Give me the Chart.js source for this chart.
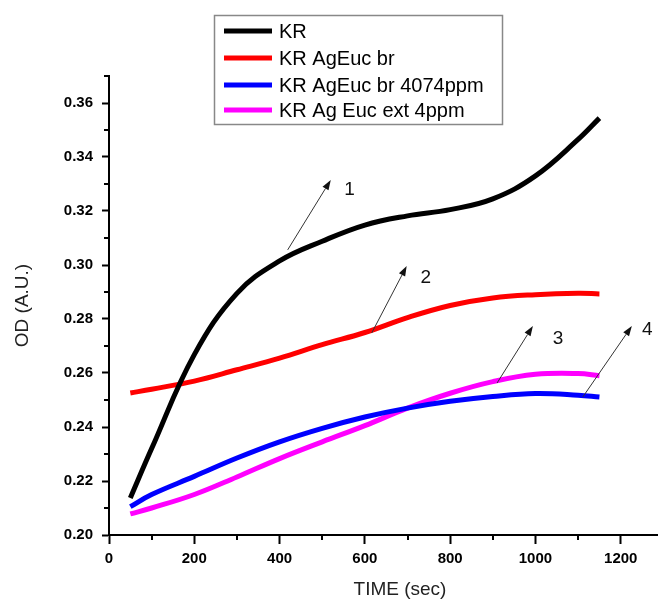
<!DOCTYPE html>
<html>
<head>
<meta charset="utf-8">
<script src="https://cdn.jsdelivr.net/npm/chart.js@4.4.1/dist/chart.umd.min.js"></script>
<style>
  body { margin: 0; background: #fff; }
  #wrap { width: 659px; height: 601px; }
</style>
</head>
<body>
<div id="wrap"><canvas id="odChart" width="659" height="601"></canvas></div>
<script>
// time points (sec)
const times = [50, 100, 200, 300, 400, 500, 600, 700, 800, 900, 1000, 1100, 1150];

const seriesLabels = ["KR", "KR AgEuc br", "KR AgEuc br 4074ppm", "KR Ag Euc ext 4ppm"];
const seriesColors = ['#000000', '#ff0000', '#0000ff', '#ff00ff'];

const odKR      = [0.2137, 0.2320, 0.2668, 0.2895, 0.3015, 0.3088, 0.3148, 0.3182, 0.3205, 0.3245, 0.3330, 0.3465, 0.3544];
const odBr      = [0.2526, 0.2540, 0.2570, 0.2612, 0.2655, 0.2705, 0.2750, 0.2805, 0.2850, 0.2878, 0.2890, 0.2895, 0.2893];
const odBr4074  = [0.2105, 0.2150, 0.2217, 0.2285, 0.2345, 0.2395, 0.2437, 0.2470, 0.2495, 0.2513, 0.2524, 0.2518, 0.2511];
const odExt4    = [0.2078, 0.2100, 0.2150, 0.2215, 0.2283, 0.2345, 0.2405, 0.2470, 0.2525, 0.2568, 0.2595, 0.2598, 0.2590];

// numbered arrows: tail (x,y) -> head (x,y), label position, in data units
const arrowNames = ["1", "2", "3", "4"];
const arrowTails = [[419, 0.3056], [616, 0.2748], [910, 0.2563], [1111, 0.2511]];
const arrowHeads = [[520, 0.3315], [698, 0.2996], [994, 0.2774], [1226, 0.2774]];
const arrowTexts = [[564, 0.3278], [743, 0.2952], [1053, 0.2726], [1262, 0.2759]];

const FONT = 'Arial, "Liberation Sans", sans-serif';
const allSeries = [odKR, odBr, odBr4074, odExt4];

// minor ticks, axis titles, arrows and boxed legend
const extrasPlugin = {
    id: 'extras',
    afterDraw: function (chart) {
        const ctx = chart.ctx;
        const xs = chart.scales.x, ys = chart.scales.y;
        const area = chart.chartArea;

        ctx.save();
        ctx.strokeStyle = '#000';
        ctx.lineWidth = 2;
        ctx.beginPath();
        for (let v = 100; v <= 1100; v += 200) {
            const px = Math.round(xs.getPixelForValue(v));
            ctx.moveTo(px, area.bottom);
            ctx.lineTo(px, area.bottom + 5);
        }
        for (let k = 21; k <= 37; k += 2) {
            const py = Math.round(ys.getPixelForValue(k / 100));
            ctx.moveTo(area.left, py);
            ctx.lineTo(area.left - 5, py);
        }
        ctx.stroke();

        // axis titles
        ctx.fillStyle = '#222';
        ctx.font = '19px ' + FONT;
        ctx.textAlign = 'center';
        ctx.textBaseline = 'middle';
        ctx.fillText('TIME (sec)', 400, 590);
        ctx.save();
        ctx.translate(23, (area.top + area.bottom) / 2);
        ctx.rotate(-Math.PI / 2);
        ctx.fillText('OD (A.U.)', 0, 0);
        ctx.restore();

        // arrows
        ctx.strokeStyle = '#333';
        ctx.fillStyle = '#111';
        ctx.lineWidth = 1;
        for (let i = 0; i < arrowNames.length; i++) {
            const x1 = xs.getPixelForValue(arrowTails[i][0]), y1 = ys.getPixelForValue(arrowTails[i][1]);
            const x2 = xs.getPixelForValue(arrowHeads[i][0]), y2 = ys.getPixelForValue(arrowHeads[i][1]);
            const ang = Math.atan2(y2 - y1, x2 - x1);
            const hl = 10, hw = 3.5;
            ctx.beginPath();
            ctx.moveTo(x1, y1);
            ctx.lineTo(x2 - hl * Math.cos(ang), y2 - hl * Math.sin(ang));
            ctx.stroke();
            ctx.beginPath();
            ctx.moveTo(x2, y2);
            ctx.lineTo(x2 - hl * Math.cos(ang) + hw * Math.sin(ang), y2 - hl * Math.sin(ang) - hw * Math.cos(ang));
            ctx.lineTo(x2 - hl * Math.cos(ang) - hw * Math.sin(ang), y2 - hl * Math.sin(ang) + hw * Math.cos(ang));
            ctx.closePath();
            ctx.fill();
            ctx.font = '19px ' + FONT;
            ctx.fillText(arrowNames[i], xs.getPixelForValue(arrowTexts[i][0]), ys.getPixelForValue(arrowTexts[i][1]));
        }

        // legend box
        ctx.fillStyle = '#fff';
        ctx.fillRect(214, 15, 288, 109);
        ctx.strokeStyle = '#888';
        ctx.lineWidth = 1.5;
        ctx.strokeRect(214.5, 15.5, 288, 109);
        ctx.textAlign = 'left';
        ctx.font = '20px ' + FONT;
        const rowY = [31, 58, 85, 110];
        for (let i = 0; i < seriesLabels.length; i++) {
            ctx.strokeStyle = seriesColors[i];
            ctx.lineWidth = 5;
            ctx.beginPath();
            ctx.moveTo(224, rowY[i]);
            ctx.lineTo(272, rowY[i]);
            ctx.stroke();
            ctx.fillStyle = '#000';
            ctx.fillText(seriesLabels[i], 279, rowY[i] + 1);
        }
        ctx.restore();
    }
};

const datasets = seriesLabels.map(function (lbl, i) {
    return {
        label: lbl,
        data: times.map(function (t, j) { return { x: t, y: allSeries[i][j] }; }),
        borderColor: seriesColors[i],
        borderWidth: 5,
        pointRadius: 0,
        fill: false,
        tension: 0.4
    };
});

new Chart(document.getElementById('odChart'), {
    type: 'line',
    data: { datasets: datasets },
    options: {
        responsive: false,
        animation: false,
        layout: { padding: { top: 76, right: 2, left: 0, bottom: 0 } },
        plugins: { legend: { display: false }, tooltip: { enabled: false } },
        scales: {
            x: {
                type: 'linear',
                min: 0,
                max: 1285,
                afterBuildTicks: function (scale) {
                    scale.ticks = scale.ticks.filter(function (t) { return t.value % 200 === 0; });
                },
                afterFit: function (scale) { scale.height = 66; },
                ticks: {
                    stepSize: 100,
                    includeBounds: false,
                    autoSkip: false,
                    color: '#000',
                    padding: 6,
                    maxRotation: 0,
                    font: { family: FONT, size: 15, weight: 'bold' },
                    callback: function (v) { return String(v); }
                },
                grid: { display: true, drawOnChartArea: false, drawTicks: true, tickLength: 9, tickColor: '#000', tickWidth: 2 },
                border: { display: true, color: '#000', width: 2 }
            },
            y: {
                min: 0.20,
                max: 0.37,
                afterBuildTicks: function (scale) {
                    scale.ticks = scale.ticks.filter(function (t) {
                        const k = Math.round(t.value * 100);
                        return k % 2 === 0 && k <= 36;
                    });
                },
                afterFit: function (scale) { scale.width = 109; },
                ticks: {
                    stepSize: 0.01,
                    color: '#000',
                    padding: 9,
                    font: { family: FONT, size: 15, weight: 'bold' },
                    callback: function (v) { return v.toFixed(2); }
                },
                grid: { display: true, drawOnChartArea: false, drawTicks: true, tickLength: 7, tickColor: '#000', tickWidth: 2 },
                border: { display: true, color: '#000', width: 2 }
            }
        }
    },
    plugins: [extrasPlugin]
});
</script>
</body>
</html>
